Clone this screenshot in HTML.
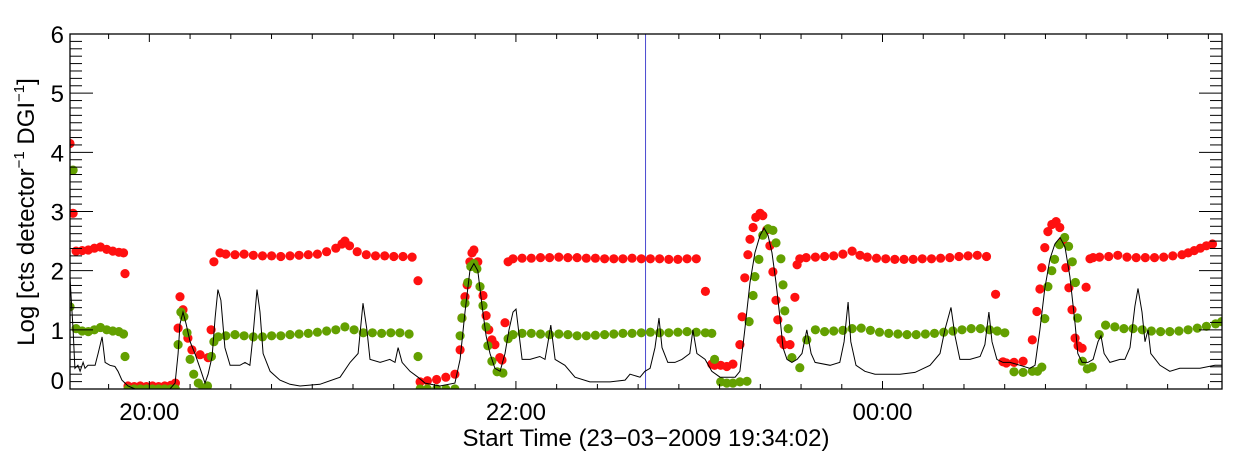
<!DOCTYPE html>
<html><head><meta charset="utf-8"><style>
html,body{margin:0;padding:0;background:#fff;}
svg{display:block;font-family:"Liberation Sans",sans-serif;}
</style></head><body>
<svg id="chart" width="1240" height="460" viewBox="0 0 1240 460" xmlns="http://www.w3.org/2000/svg">
<rect x="0" y="0" width="1240" height="460" fill="#fff"/>
<g id="marks"></g>
<g id="axes"></g>
<text x="34" y="212" transform="rotate(-90 34 212)" text-anchor="middle" font-size="24">Log [cts detector<tspan font-size="15" dy="-10">−1</tspan><tspan dy="10"> DGI</tspan><tspan font-size="15" dy="-10">−1</tspan><tspan dy="10">]</tspan></text>
<text x="646" y="446" text-anchor="middle" font-size="24">Start Time (23−03−2009 19:34:02)</text>
</svg>
<script>
// times in minutes since 19:34:02
const redT = [0,1,2,4,6,8,10,12,14,16,17.5,18,19,21,23,25,27,29,31,33,34.5,35.4,36,37,38.6,39.9,42.6,45.2,46.2,47.1,49.1,51,54,57,60,63,66,69,72,75,78,81,84,87,89,90,91.5,94,97,100,103,106,109,112,113.9,114.6,117,120,123,126,127.7,128.3,129.3,130,130.9,131.6,132.2,133.5,135.2,136.2,137.1,138.1,139.1,140.7,141.4,142.4,143.4,145,148,151,154,157,160,163,166,169,172,175,178,181,184,187,190,193,196,199,202,205,208,210.1,211,213,215,217,219.3,220,220.9,221.9,222.6,223.6,224.5,225.9,226.8,228.1,229.1,230.1,231.1,231.7,232.7,233.7,235.7,237.3,238,238.9,241,244,247,250,253,256,258.6,261,264,267,270,273,276,279,282,285,288,291,294,297,300,303,305.4,306.5,309,312,315,316.5,317.5,318.1,319.1,320.1,321.4,322.8,324,325,326,327,328,329,330,331.3,332.6,333.9,334.9,337,340,343,346,349,352,355,358,361,364,366,368,370,372,374,376];
const redV = [4.15,2.97,2.33,2.34,2.35,2.38,2.4,2.36,2.33,2.31,2.3,1.95,0.05,0.04,0.05,0.04,0.05,0.04,0.05,0.06,0.1,1.03,1.56,1.34,0.86,0.66,0.58,0.53,1.0,2.15,2.3,2.28,2.27,2.28,2.26,2.25,2.25,2.24,2.25,2.26,2.27,2.28,2.32,2.38,2.45,2.5,2.42,2.32,2.27,2.25,2.25,2.24,2.24,2.23,1.83,0.12,0.14,0.16,0.2,0.25,0.66,1.2,1.56,1.76,2.15,2.3,2.35,2.15,1.58,1.24,1.0,0.83,0.75,0.53,0.49,1.12,2.15,2.2,2.21,2.21,2.22,2.22,2.23,2.22,2.22,2.21,2.21,2.2,2.2,2.2,2.21,2.2,2.2,2.2,2.19,2.19,2.2,2.2,1.65,0.42,0.4,0.4,0.38,0.42,0.75,1.22,1.88,2.27,2.53,2.73,2.9,2.97,2.93,2.69,2.42,1.98,1.5,1.17,0.83,0.75,0.75,1.55,2.1,2.2,2.22,2.23,2.24,2.25,2.28,2.33,2.26,2.23,2.21,2.2,2.19,2.19,2.19,2.2,2.2,2.21,2.22,2.24,2.25,2.26,2.24,1.6,0.46,0.44,0.45,0.47,0.83,1.31,1.69,2.05,2.39,2.66,2.78,2.83,2.73,2.49,2.05,1.71,1.34,0.86,0.73,0.69,1.72,2.2,2.22,2.23,2.24,2.26,2.23,2.22,2.22,2.22,2.23,2.25,2.27,2.3,2.34,2.38,2.42,2.45];
const greenT = [0,1,2,4,6,8,10,12,14,16,17.5,18,19,21,23,25,27,29,31,33,34.5,35.4,36.3,37.3,38.3,39.3,40.5,42,43.5,45,46.3,47.1,48.5,51,54,57,60,63,66,69,72,75,78,81,84,87,90,93,96,99,102,105,108,111,113.9,114.6,117,120,123,126,127.7,128.3,129.3,130.2,131.2,132.2,133.2,134.2,135.2,136.2,136.8,138.1,139.8,141.7,143.4,145,148,151,154,157,160,163,166,169,172,175,178,181,184,187,190,193,196,199,202,205,208,210.1,211,213,215,217,219.3,221.6,222.3,223.6,224.2,225.5,226.8,228.5,230.1,231.1,232.7,233.4,234,235.1,236.3,238.9,241.2,244,247,250,253,256,259,262,265,268,271,274,277,280,283,286,289,292,295,298,301,303.5,306,309,312,315,316.7,318.1,319.1,320.1,321.4,322.3,323.9,325.6,326.9,328.1,329.1,329.8,331.4,333,334.6,336.9,339,342,345,348,351,354,357,360,363,366,369,372,375,377];
const greenV = [1.39,3.7,1.02,0.98,0.97,1.0,1.04,1.0,0.98,0.97,0.93,0.55,-0.02,-0.02,-0.02,-0.02,-0.02,-0.02,-0.02,-0.02,-0.02,0.75,1.3,1.22,0.95,0.5,0.25,0.1,0.02,0.05,0.55,0.8,0.88,0.9,0.92,0.9,0.88,0.88,0.9,0.9,0.92,0.93,0.94,0.96,0.98,1.0,1.05,1.0,0.95,0.95,0.94,0.95,0.95,0.93,0.55,-0.02,-0.02,-0.02,-0.02,-0.02,0.9,1.2,1.45,1.8,2.07,2.12,2.03,1.73,1.41,1.05,0.73,0.47,0.29,0.27,0.85,0.92,0.94,0.94,0.93,0.92,0.93,0.92,0.9,0.9,0.91,0.92,0.93,0.94,0.94,0.95,0.96,0.95,0.95,0.96,0.97,0.96,0.95,0.94,0.5,0.12,0.1,0.1,0.12,0.13,1.14,1.58,1.9,2.19,2.6,2.71,2.68,2.47,2.2,1.76,1.32,1.02,0.53,0.36,0.83,1.0,0.97,0.98,0.99,1.02,1.03,0.99,0.96,0.94,0.93,0.92,0.92,0.93,0.94,0.96,0.98,1.0,1.02,1.02,1.0,0.98,0.95,0.29,0.28,0.3,0.3,0.37,1.19,1.73,2.0,2.19,2.44,2.56,2.41,2.15,1.8,1.2,0.47,0.34,0.37,0.92,1.08,1.05,1.02,1.02,1.0,0.98,0.97,0.97,0.98,1.0,1.03,1.06,1.1,1.14,1.16];
const lineT = [0,1,1.6,2.6,3.3,4.3,4.9,5.9,8.2,9.2,10.5,11.5,13.1,14.7,15.7,17,19,21.3,26.2,32.7,34.4,35.4,36,37,38,39.3,40.9,42.6,44.2,45.2,46.5,47.5,48.4,49.4,50.7,52.4,55.6,57.3,58.9,59.9,61.2,62.2,63.2,65.5,68.7,72,75.3,81.8,88.4,91.7,94.3,95.9,97.2,98.2,101.5,104.7,106.4,107.4,108.7,111.3,113.9,116.2,121.1,126,127.7,129.3,130.9,132.2,133.5,134.9,136.2,137.5,139.1,140.8,142.4,143.7,145,146,146.6,148,150.6,153.8,155.5,156.5,157.4,158.8,162,165.3,170.2,176.8,181.7,183.3,186.6,188.2,189.9,191.5,192.8,193.8,195.7,198,200.3,202.9,203.9,205.2,207.9,210.1,212.8,217.7,219.3,220.9,222.6,224.2,225.9,227.2,228.5,229.8,231.1,232.4,233.4,234.7,236.3,238,239.6,241.2,242.6,243.9,248.8,252,253.4,254.7,255.6,257.3,260.2,263.5,271.7,276.6,281.5,284.8,286.4,288.4,289.7,291.3,294.6,297.9,299.5,300.8,301.8,303.4,305.4,307.7,311,314.2,315.9,317.5,319.1,320.8,322.4,324.1,325.7,327.3,329,329.9,331.3,333.2,334.9,336.5,337.5,338.5,340.4,343.7,345.3,347,348.6,349.6,350.9,351.9,352.9,353.8,356.8,360,363.3,369.9,374.8,377.1];
const lineV = [1.88,1.0,0.35,0.4,0.3,0.45,0.35,0.4,0.4,0.6,0.88,0.45,0.4,0.38,0.3,0.15,0.05,0.0,0.0,0.0,0.1,0.6,1.1,1.3,1.1,0.8,0.6,0.35,0.1,0.25,0.55,1.2,1.68,1.5,0.7,0.4,0.4,0.45,0.4,0.9,1.68,1.3,0.6,0.3,0.15,0.08,0.05,0.08,0.2,0.45,0.6,1.45,1.0,0.5,0.45,0.5,0.45,0.7,0.45,0.3,0.2,0.1,0.05,0.1,0.5,1.3,2.0,2.12,2.0,1.4,0.9,0.6,0.35,0.3,0.6,1.0,1.3,1.35,1.1,0.5,0.5,0.55,0.5,0.8,1.08,0.5,0.4,0.2,0.12,0.12,0.15,0.25,0.2,0.3,0.35,0.7,1.2,0.7,0.45,0.45,0.5,0.6,1.0,0.6,0.5,0.3,0.2,0.2,0.3,1.0,1.8,2.3,2.6,2.72,2.6,2.3,1.8,1.2,0.7,0.5,0.45,0.5,0.6,1.0,0.6,0.45,0.4,0.45,0.8,1.47,0.8,0.4,0.3,0.25,0.25,0.28,0.4,0.6,1.0,1.38,0.9,0.5,0.5,0.55,0.75,1.3,0.8,0.5,0.45,0.45,0.4,0.35,0.4,1.0,1.7,2.2,2.45,2.56,2.4,1.9,1.1,0.6,0.45,0.45,0.5,0.8,0.9,0.6,0.45,0.5,0.5,0.7,1.4,1.7,1.3,0.8,1.0,0.6,0.4,0.3,0.35,0.35,0.4,0.4];
const yTickLabels = ["0","1","2","3","4","5","6"];
const xTickLabels = ["20:00","22:00","00:00"];
const xTickTimes = [25.97,145.97,265.97];
const markerTime = [188.4];

const NS="http://www.w3.org/2000/svg";
const L=70,R=1222,T=34,B=389,TMAX=377.1,YMIN=0,YMAX=6;
function xs(t){return L+(t/TMAX)*(R-L);}
function ys(v){return B-(v-YMIN)/(YMAX-YMIN)*(B-T);}
function mk(tag,attrs,parent){const e=document.createElementNS(NS,tag);for(const k in attrs)e.setAttribute(k,attrs[k]);parent.appendChild(e);return e;}
const marks=document.getElementById('marks'), axes=document.getElementById('axes');
const clip=mk('clipPath',{id:'pc'},marks);mk('rect',{x:L,y:T,width:R-L,height:B-T},clip);
const gm=mk('g',{'clip-path':'url(#pc)'},marks);

const vl=mk('line',{x1:xs(markerTime[0]),x2:xs(markerTime[0]),y1:T,y2:B,stroke:'#4a4ad0','stroke-width':1},gm);



function dots(ts,vs,color,name){
  const g=mk('g',{fill:color},gm);
  
  
  for(let i=0;i<ts.length;i++){
    const c=mk('circle',{cx:xs(ts[i]).toFixed(1),cy:Math.min(ys(vs[i]),B).toFixed(1),r:4.6},g);
    
    
  }
}
dots(redT,redV,'#ff1010','red-series');
dots(greenT,greenV,'#63a000','green-series');
let d='';for(let i=0;i<lineT.length;i++){d+=(i?'L':'M')+xs(lineT[i]).toFixed(1)+','+ys(lineV[i]).toFixed(1);}
const pl=mk('path',{d:d,fill:'none',stroke:'#000','stroke-width':1},gm);



const fr=mk('rect',{x:L,y:T,width:R-L,height:B-T,fill:'none',stroke:'#000','stroke-width':1.3},axes);


for(let v=0;v<=6.0001;v+=0.125){
  const major=Math.abs(v-Math.round(v))<1e-6;const len=major?23:12;const y=ys(v);
  mk('line',{x1:L,x2:L+len,y1:y,y2:y,stroke:'#000','stroke-width':1},axes);
  mk('line',{x1:R,x2:R-len,y1:y,y2:y,stroke:'#000','stroke-width':1},axes);
}
for(let i=0;i<yTickLabels.length;i++){
  const t=mk('text',{x:L-6,y:ys(i)+(i===0?0:9),'text-anchor':'end','font-size':24},axes);
  t.textContent=yTickLabels[i];
  
  
}
for(let t=xTickTimes[0]-40/3*2;t<=TMAX;t+=40/3){
  if(t<0)continue;const x=xs(t);
  const major=xTickTimes.some(m=>Math.abs(m-t)<0.01);const len=major?8:5;
  mk('line',{x1:x,x2:x,y1:B,y2:B-len,stroke:'#000','stroke-width':1},axes);
  mk('line',{x1:x,x2:x,y1:T,y2:T+len,stroke:'#000','stroke-width':1},axes);
}
for(let i=0;i<xTickLabels.length;i++){
  const t=mk('text',{x:xs(xTickTimes[i]),y:420,'text-anchor':'middle','font-size':24},axes);
  t.textContent=xTickLabels[i];
  
  
}
</script>
</body></html>
